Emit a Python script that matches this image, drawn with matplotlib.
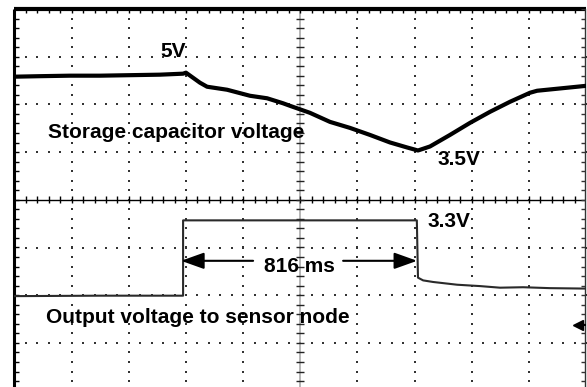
import numpy as np
import matplotlib

matplotlib.use("Agg")
import matplotlib.pyplot as plt

# --- scope settings (screen is 10 x 8 divisions) ---
MS_PER_DIV = 200.0
CH1_V_PER_DIV = 0.95     # storage capacitor channel
CH1_ZERO_DIV = -2.64
CH2_V_PER_DIV = 2.09     # output channel
CH2_ZERO_DIV = -2.01

# --- traces (time in ms from left edge, volts) ---
ch1_t = [0, 89, 194, 299, 404, 509, 590, 600, 649, 674, 744, 824, 884, 940,
         964, 1034, 1104, 1174, 1244, 1314, 1374, 1412, 1454, 1524, 1594,
         1664, 1734, 1804, 1829, 1899, 2004]
ch1_v = [4.96, 4.97, 4.98, 4.98, 4.99, 5.00, 5.02, 5.04, 4.84, 4.76, 4.70,
         4.58, 4.53, 4.43, 4.38, 4.24, 4.06, 3.94, 3.80, 3.65, 3.55, 3.49,
         3.57, 3.80, 4.04, 4.26, 4.46, 4.64, 4.68, 4.72, 4.78]

ch2_t = [0, 299, 590, 590, 999, 1408, 1412, 1430, 1465, 1549, 1629, 1699,
         1780, 1874, 2004]
ch2_v = [-0.02, 0.0, 0.0, 3.3, 3.3, 3.3, 0.79, 0.67, 0.60, 0.48, 0.42, 0.35,
         0.37, 0.33, 0.31]

pulse_start_ms = 590
pulse_end_ms = 1406
pulse_label = "816 ms"


def t_div(t):
    return np.asarray(t, dtype=float) / MS_PER_DIV


def ch1_div(v):
    return np.asarray(v, dtype=float) / CH1_V_PER_DIV + CH1_ZERO_DIV


def ch2_div(v):
    return np.asarray(v, dtype=float) / CH2_V_PER_DIV + CH2_ZERO_DIV


fig = plt.figure(figsize=(5.87, 3.87), dpi=100)
ax = fig.add_axes([14.5 / 587, -3.6 / 387, 571.5 / 587, 381.6 / 387])
ax.set_xlim(0, 10)
ax.set_ylim(-4, 4)
ax.set_axis_off()

# --- graticule ---
minor_x = np.arange(0, 10.01, 0.2)
minor_y = np.arange(-4, 4.01, 0.2)
dot = dict(ls="none", marker="s", ms=1.8, color="#333333", mew=0)
for gx in range(1, 10):
    if gx != 5:
        ax.plot(np.full_like(minor_y, gx), minor_y, **dot)
for gy in range(-3, 4):
    if gy != 0:
        ax.plot(minor_x, np.full_like(minor_x, gy), **dot)

# centre axes with minor ticks
ax.axhline(0, color="black", lw=1.0)
ax.axvline(5, color="#aaaaaa", lw=1.2)
ax.vlines(minor_x, -0.07, 0.07, color="black", lw=1.0)
ax.hlines(minor_y, 4.93, 5.07, color="#222222", lw=1.0)

# frame with ticks
ax.plot([0, 10], [4, 4], color="black", lw=3.0, clip_on=False, solid_capstyle="butt")
ax.plot([0, 0], [-4, 4], color="black", lw=2.2, clip_on=False, solid_capstyle="butt")
ax.plot([9.99, 9.99], [-4, 4], color="#333333", lw=1.0, clip_on=False)
ax.vlines(minor_x, 3.91, 4.0, color="black", lw=1.0)
ax.hlines(minor_y, 0, 0.08, color="black", lw=1.0)
ax.hlines(minor_y, 9.91, 9.99, color="#333333", lw=1.0)

# --- traces ---
ax.plot(t_div(ch1_t), ch1_div(ch1_v), color="black", lw=3.0,
        solid_joinstyle="round")
ax.plot(t_div(ch2_t), ch2_div(ch2_v), color="#2a2a2a", lw=1.5)

# channel 2 reference marker at right edge
ax.plot([9.86], [-2.62], marker="<", ms=7, color="black", clip_on=False)
ax.plot([9.86, 9.99], [-2.62, -2.62], color="black", lw=1.5)

# --- annotations ---
font = dict(family="Liberation Sans", weight="bold", size=15, color="black")
ax.text(2.55, 3.0, "5V", ha="left", va="baseline", **font)
ax.text(0.586, 1.289, "Storage capacitor voltage", ha="left", va="baseline", **font)
ax.text(7.393, 0.734, "3.5V", ha="left", va="baseline", **font)
ax.text(7.235, -0.566, "3.3V", ha="left", va="baseline", **font)
ax.text(0.551, -2.579, "Output voltage to sensor node", ha="left", va="baseline", **font)

mid = (pulse_start_ms + pulse_end_ms) / 2
y_arrow = -1.279
ax.text(t_div(mid), -1.509, pulse_label, ha="center", va="baseline", **font)
arrow = dict(arrowstyle="-|>,head_length=1.4,head_width=0.5", color="black",
             lw=1.5, mutation_scale=10, shrinkA=0, shrinkB=0)
ax.annotate("", xy=(t_div(pulse_start_ms - 7), y_arrow),
            xytext=(t_div(835), y_arrow), arrowprops=arrow)
ax.annotate("", xy=(t_div(pulse_end_ms + 3), y_arrow),
            xytext=(t_div(1150), y_arrow), arrowprops=arrow)

fig.savefig("out.png", dpi=100)
